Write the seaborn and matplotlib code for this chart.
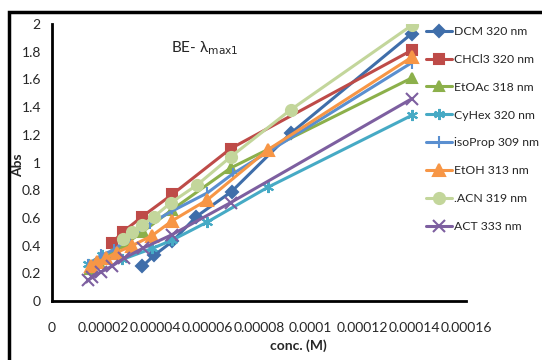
import pandas as pd
import seaborn as sns
import matplotlib.pyplot as plt
from matplotlib.patches import Rectangle
from matplotlib.ticker import FuncFormatter

# data (conc. in M, absorbance)
dcm_x = [0.0000349, 0.0000395, 0.0000465, 0.0000558, 0.0000694, 0.0000922, 0.000139]
dcm_y = [0.25, 0.33, 0.43, 0.61, 0.79, 1.21, 1.93]

chcl3_x = [0.0000232, 0.0000275, 0.0000349, 0.0000465, 0.000069, 0.000139]
chcl3_y = [0.42, 0.50, 0.61, 0.77, 1.10, 1.81]

etoac_x = [0.0000145, 0.000018, 0.000023, 0.000029, 0.000035, 0.0000465, 0.000069, 0.000139]
etoac_y = [0.23, 0.28, 0.34, 0.42, 0.50, 0.66, 0.96, 1.61]

cyhex_x = [0.000014, 0.0000195, 0.0000271, 0.0000388, 0.0000465, 0.00006, 0.0000833, 0.000139]
cyhex_y = [0.27, 0.33, 0.30, 0.38, 0.44, 0.57, 0.82, 1.34]

iso_x = [0.000014, 0.000019, 0.000024, 0.00003, 0.000038, 0.0000465, 0.00006, 0.00007, 0.000139]
iso_y = [0.26, 0.33, 0.37, 0.46, 0.56, 0.65, 0.78, 0.92, 1.72]

etoh_x = [0.000015, 0.0000175, 0.000021, 0.000025, 0.000031, 0.0000385, 0.0000465, 0.00006, 0.0000833, 0.000139]
etoh_y = [0.25, 0.28, 0.31, 0.35, 0.40, 0.47, 0.58, 0.73, 1.09, 1.76]

acn_x = [0.0000275, 0.000031, 0.0000349, 0.0000395, 0.000046, 0.0000562, 0.000069, 0.0000922, 0.000139]
acn_y = [0.45, 0.50, 0.55, 0.61, 0.71, 0.84, 1.04, 1.38, 1.99]

act_x = [0.000014, 0.0000155, 0.000019, 0.000023, 0.000028, 0.000035, 0.0000465, 0.000069, 0.000139]
act_y = [0.15, 0.17, 0.21, 0.25, 0.31, 0.38, 0.48, 0.71, 1.46]

labels = ["DCM 320 nm", "CHCl3 320 nm", "EtOAc 318 nm", "CyHex 320 nm",
          "isoProp 309 nm", "EtOH 313 nm", ".ACN 319 nm", "ACT 333 nm"]
xs = [dcm_x, chcl3_x, etoac_x, cyhex_x, iso_x, etoh_x, acn_x, act_x]
ys = [dcm_y, chcl3_y, etoac_y, cyhex_y, iso_y, etoh_y, acn_y, act_y]

colors = ["#3F6EAA", "#BE4B48", "#8CB04B", "#46AAC5", "#5A8FD0", "#F79646", "#C3D69B", "#7D5FA0"]
markers = ["D", "s", "^", (6, 2, 0), "|", "^", "o", "x"]
msizes = [6, 7, 7, 8, 9, 8, 8, 8]

sns.set_style("white")
plt.rcParams['font.family'] = ['Lato', 'DejaVu Sans']

fig = plt.figure(figsize=(5.42, 3.6), dpi=100)
ax = fig.add_axes([52 / 542, 1 - 301 / 360, 414 / 542, 277 / 360])

for lab, x, y, c, m, ms in zip(labels, xs, ys, colors, markers, msizes):
    sns.lineplot(x=x, y=y, ax=ax, color=c, marker=m, markersize=ms, linewidth=2.2,
                 markeredgecolor=c, markeredgewidth=1.5, sort=False, label=lab)

ax.set_xlim(0, 0.00016)
ax.set_ylim(0, 2)
ax.set_xticks([i * 0.00002 for i in range(9)])
ax.set_yticks([i * 0.2 for i in range(11)])
ax.xaxis.set_major_formatter(FuncFormatter(lambda v, p: f"{v:.5f}".rstrip('0').rstrip('.')))
ax.yaxis.set_major_formatter(FuncFormatter(lambda v, p: f"{v:.1f}".rstrip('0').rstrip('.')))
ax.tick_params(axis='both', labelsize=10, length=4, width=1, color='#888888', direction='out')
ax.tick_params(axis='x', pad=11)
ax.tick_params(axis='y', pad=4)
for s in ['top', 'right']:
    ax.spines[s].set_visible(False)
for s in ['left', 'bottom']:
    ax.spines[s].set_color('black')
    ax.spines[s].set_linewidth(2)

ax.set_xlabel("")
ax.set_ylabel("")
fig.text(298 / 542, 1 - 346 / 360, "conc. (M)", ha='center', va='center',
         fontsize=10, fontweight='bold')
fig.text(18 / 542, 1 - 165 / 360, "Abs", ha='center', va='center', rotation=90,
         fontsize=10, fontweight='bold')
ax.text(205 / 542, 1 - 48 / 360, "BE- λ$_{\\mathrm{max1}}$", transform=fig.transFigure,
        ha='center', va='center', fontsize=11)

ax.legend(loc='upper left', bbox_to_anchor=(426 / 542, 1 - 26 / 360), bbox_transform=fig.transFigure,
          frameon=False, fontsize=8.8, handlelength=2.1, handletextpad=0.2, labelspacing=1.38,
          borderaxespad=0, borderpad=0)

fig.add_artist(Rectangle((9 / 542, -0.1), 1.2, 1.1 - 12 / 360, transform=fig.transFigure,
                         fill=False, edgecolor='black', linewidth=2.5, clip_on=False))

fig.savefig("out.png", dpi=100)
